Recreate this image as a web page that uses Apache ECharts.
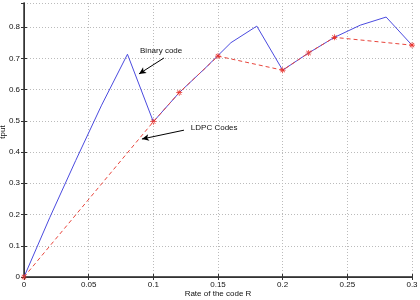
<!DOCTYPE html>
<html>
<head>
<meta charset="utf-8">
<script src="https://cdn.jsdelivr.net/npm/echarts@6/dist/echarts.min.js"></script>
<style>
  html, body { margin: 0; padding: 0; background: #fff; }
  #chart { width: 420px; height: 300px; }
</style>
</head>
<body>
<div id="chart"></div>
<script>
// binary code curve (blue, solid)
const binaryRate = [0, 0.02, 0.04, 0.06, 0.08, 0.1, 0.12, 0.14, 0.16, 0.18, 0.2, 0.22, 0.24, 0.26, 0.28, 0.3];
const binaryTput = [0, 0.191, 0.373, 0.55, 0.713, 0.497, 0.59, 0.668, 0.75, 0.803, 0.662, 0.717, 0.767, 0.806, 0.832, 0.742];

// LDPC curve (red, dashed with markers)
const ldpcRate = [0, 0.1, 0.12, 0.15, 0.2, 0.22, 0.24, 0.3];
const ldpcTput = [0, 0.497, 0.59, 0.707, 0.662, 0.717, 0.767, 0.742];

// annotations: text anchor and arrow [from, to] in data coords
const binaryLabel = { text: "Binary code", at: [0.0897, 0.723], arrow: [[0.1082, 0.701], [0.0889, 0.650]] };
const ldpcLabel = { text: "LDPC Codes", at: [0.129, 0.477], arrow: [[0.1237, 0.470], [0.0912, 0.4416]] };

const xTicks = ["0", "0.05", "0.1", "0.15", "0.2", "0.25", "0.3"];
const yTicks = ["0", "0.1", "0.2", "0.3", "0.4", "0.5", "0.6", "0.7", "0.8"];

const font = "Liberation Sans";
const asterisk = "path://M0,4.4H10V5.6H0Z M4.4,0H5.6V10H4.4Z M1,1.8L1.8,1L9,8.2L8.2,9Z M9,1.8L8.2,1L1,8.2L1.8,9Z";

const chart = echarts.init(document.getElementById("chart"));

const zip = (xs, ys) => xs.map((x, i) => [x, ys[i]]);

const boxAxis = {
  axisLabel: { show: false },
  axisLine: { show: true, lineStyle: { color: "#333", width: 1 } },
  axisTick: { show: true, inside: true, length: 3, lineStyle: { color: "#333" } },
  splitLine: { show: false },
};

function annotation(a) {
  return {
    markLine: {
      silent: true,
      symbol: ["none", "arrow"],
      symbolSize: [5, 7],
      lineStyle: { color: "#000", type: "solid", width: 1 },
      label: { show: false },
      data: [[{ coord: a.arrow[0] }, { coord: a.arrow[1] }]],
    },
    markPoint: {
      silent: true,
      symbol: "circle",
      symbolSize: 0,
      label: {
        show: true,
        position: "right",
        distance: 0,
        formatter: a.text,
        color: "#111",
        fontFamily: font,
        fontSize: 8,
      },
      data: [{ coord: a.at }],
    },
  };
}

chart.setOption({
  animation: false,
  backgroundColor: "#fff",
  grid: { left: 24, right: 8, top: 3, bottom: 23, containLabel: false, outerBoundsMode: "none" },
  xAxis: [
    {
      type: "value",
      min: 0,
      max: 0.3,
      interval: 0.05,
      name: "Rate of the code R",
      nameLocation: "middle",
      nameGap: 13,
      nameMoveOverlap: false,
      nameTextStyle: { color: "#111", fontFamily: font, fontSize: 8 },
      axisLabel: {
        color: "#111",
        fontFamily: font,
        fontSize: 8,
        margin: 4,
        formatter: (v) => xTicks[Math.round(v / 0.05)] ?? "",
      },
      axisLine: { show: true, onZero: false, lineStyle: { color: "#222", width: 1.5 } },
      axisTick: { show: true, inside: true, length: 3, lineStyle: { color: "#333" } },
      splitLine: { show: true, lineStyle: { color: "#bbb", type: [1, 2], width: 1 } },
    },
    { ...boxAxis, type: "value", position: "top", min: 0, max: 0.3, interval: 0.05 },
  ],
  yAxis: [
    {
      type: "value",
      min: 0,
      max: 0.877,
      interval: 0.1,
      name: "tput",
      nameLocation: "middle",
      nameGap: 17,
      nameMoveOverlap: false,
      nameTextStyle: { color: "#111", fontFamily: font, fontSize: 8, padding: [0, 0, 0, 16] },
      axisLabel: {
        color: "#111",
        fontFamily: font,
        fontSize: 8,
        margin: 4,
        showMaxLabel: false,
        formatter: (v) => yTicks[Math.round(v / 0.1)] ?? "",
      },
      axisLine: { show: true, onZero: false, lineStyle: { color: "#333", width: 1.5 } },
      axisTick: { show: true, inside: true, length: 3, lineStyle: { color: "#333" } },
      splitLine: { show: true, lineStyle: { color: "#bbb", type: [1, 2], width: 1 } },
    },
    { ...boxAxis, type: "value", position: "right", min: 0, max: 0.877, interval: 0.1 },
  ],
  series: [
    {
      name: "Binary code",
      type: "line",
      data: zip(binaryRate, binaryTput),
      showSymbol: false,
      lineStyle: { color: "#4b4bdf", width: 1 },
      itemStyle: { color: "#4b4bdf" },
      z: 2,
      ...annotation(binaryLabel),
    },
    {
      name: "LDPC Codes",
      type: "line",
      data: zip(ldpcRate, ldpcTput),
      symbol: asterisk,
      symbolSize: 6,
      showSymbol: true,
      lineStyle: { color: "#e8453c", width: 1, type: [4, 3] },
      itemStyle: { color: "#e8302a" },
      z: 3,
      ...annotation(ldpcLabel),
    },
  ],
});
</script>
</body>
</html>
